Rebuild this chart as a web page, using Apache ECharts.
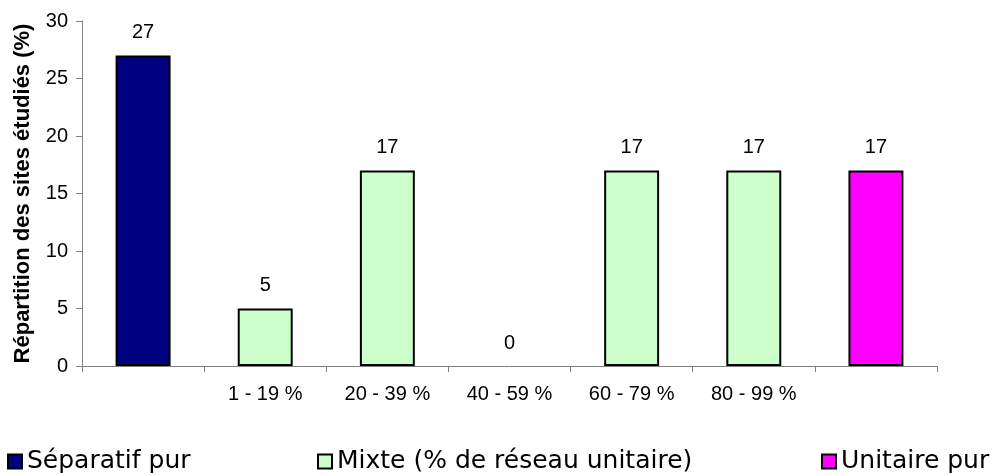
<!DOCTYPE html>
<html>
<head>
<meta charset="utf-8">
<script src="https://cdn.jsdelivr.net/npm/echarts@6/dist/echarts.min.js"></script>
<style>
  html, body { margin: 0; padding: 0; background: #fff; }
  #chart { width: 1006px; height: 475px; }
</style>
</head>
<body>
<div id="chart"></div>
<script>
// catégories de l'axe X (la première et la dernière n'ont pas d'étiquette)
var categories = ['', '1 - 19 %', '20 - 39 %', '40 - 59 %', '60 - 79 %', '80 - 99 %', ''];
// valeurs par série
var separatif = [27, '-', '-', '-', '-', '-', '-'];
var mixte = ['-', 5, 17, 0, 17, 17, '-'];
var unitaire = ['-', '-', '-', '-', '-', '-', 17];
var yTicks = [0, 5, 10, 15, 20, 25, 30];

var chart = echarts.init(document.getElementById('chart'));

var font = 'Arial, "Liberation Sans", sans-serif';
var label = { show: true, position: 'top', distance: 13, color: '#000', fontSize: 20, fontFamily: font };
var border = { borderColor: '#000', borderWidth: 2 };

// une barre à 0 n'a pas de contour visible
function sansContourAZero(arr) {
    return arr.map(function (v) {
        return v === 0 ? { value: 0, itemStyle: { borderWidth: 0 } } : v;
    });
}

function legendAt(left, name) {
    return {
        left: left,
        top: 444,
        data: [name],
        itemWidth: 14,
        itemHeight: 14,
        itemGap: 0,
        icon: 'rect',
        textStyle: { fontSize: 25, color: '#000', fontFamily: '"DejaVu Sans", sans-serif' }
    };
}

var option = {
    animation: false,
    grid: { left: 82, right: 69, top: 21, bottom: 109, containLabel: false, outerBoundsMode: 'none' },
    legend: [
        legendAt(2, 'Séparatif pur'),
        legendAt(312, 'Mixte (% de réseau unitaire)'),
        legendAt(816, 'Unitaire pur')
    ],
    xAxis: {
        type: 'category',
        data: categories,
        axisLine: { lineStyle: { color: '#808080', width: 1 } },
        axisTick: { show: true, length: 6, lineStyle: { color: '#808080' } },
        axisLabel: { color: '#000', fontSize: 20, fontFamily: font, margin: 18 }
    },
    yAxis: {
        type: 'value',
        min: yTicks[0],
        max: yTicks[yTicks.length - 1],
        interval: 5,
        name: 'Répartition des sites étudiés (%)',
        nameLocation: 'middle',
        nameGap: 48,
        nameTextStyle: { fontSize: 22, fontWeight: 'bold', color: '#000', fontFamily: font },
        axisLine: { show: true, lineStyle: { color: '#808080', width: 1 } },
        axisTick: { show: true, length: 6, lineStyle: { color: '#808080' } },
        splitLine: { show: false },
        axisLabel: { color: '#000', fontSize: 20, fontFamily: font, margin: 14 }
    },
    series: [
        {
            name: 'Séparatif pur',
            type: 'bar',
            stack: 'tout',
            barWidth: '45%',
            data: separatif,
            itemStyle: Object.assign({ color: '#000080' }, border),
            label: label
        },
        {
            name: 'Mixte (% de réseau unitaire)',
            type: 'bar',
            stack: 'tout',
            data: sansContourAZero(mixte),
            itemStyle: Object.assign({ color: '#CCFFCC' }, border),
            label: label
        },
        {
            name: 'Unitaire pur',
            type: 'bar',
            stack: 'tout',
            data: unitaire,
            itemStyle: Object.assign({ color: '#FF00FF' }, border),
            label: label
        }
    ]
};

chart.setOption(option);
</script>
</body>
</html>
